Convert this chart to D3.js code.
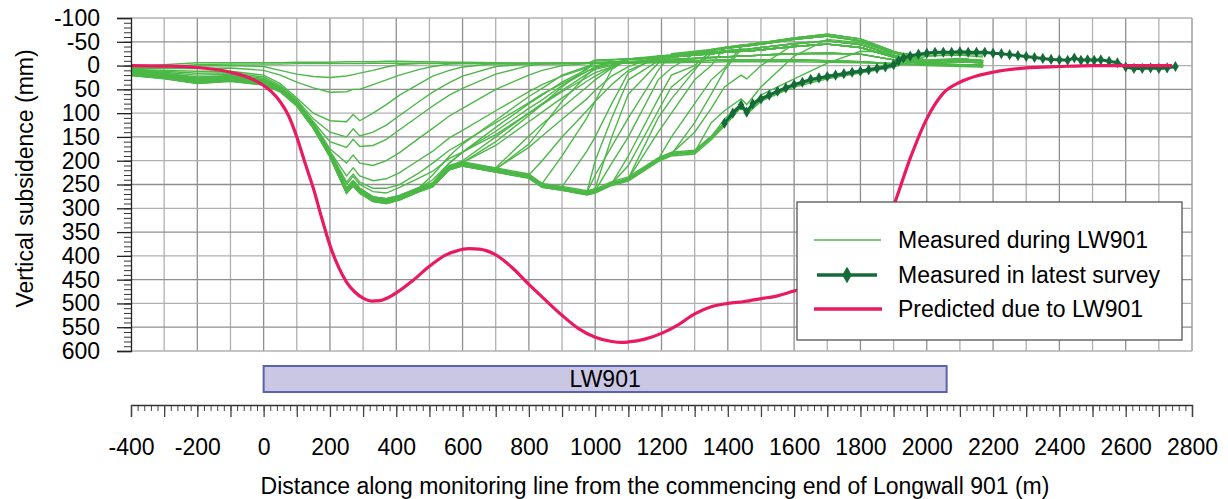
<!DOCTYPE html>
<html>
<head>
<meta charset="utf-8">
<script src="https://d3js.org/d3.v7.min.js"></script>
<style>
  body { margin: 0; background: #fff; }
  svg text { font-family: "Liberation Sans", Arial, sans-serif; fill: #000; }
</style>
</head>
<body>
<svg id="chart" width="1228" height="499"></svg>
<script>
// ---- data (mm of subsidence, positive = down) ----
const gridX = [-400,-300,-200,-100,0,50,100,150,200,250,270,290,330,370,410,470,510,560,600,
  700,800,840,900,975,1000,1050,1100,1190,1230,1300,1350,1390,1440,1457,1500,1600,1700,1800,1900,2000,2100,2170];

// surveys measured during LW901, y values on gridX
const measuredDuring = [
  [3,-2,-6,-6, -6,-6,-7,-7,-7,-8,-8,-8,-8,-9,-9,-8,-8,-7,-7, -6,-5,-5,-6,-6,-6,-7,-8, -8,-9,-10,-11,-12,-12,-12,-12,-12,-10,-8,-4,-2,0,2],
  [6,2,-2,-3, -3,-3,-4,-4,-4,-4,-4,-4,-5,-5,-5,-5,-4,-4,-4, -3,-3,-3,-3,-4,-4,-5,-5, -6,-6,-7,-7,-8,-8,-8,-8,-8,-7,-6,-3,0,2,3],
  [5,3,1,0, 2,10,18,23,25,22,19,16,10,3,-2,-4,-5,-5,-5, -5,-4,-4,-5,-5,-6,-6,-7, -12,-13,-15,-17,-18,-20,-20,-22,-25,-26,-24,-12,-3,-1,0],
  [6,6,6,5, 10,20,35,47,56,55,50,50,40,30,20,8,2,-3,-4, -5,-5,-5,-5,-5,-6,-6,-7, -8,-9,-10,-11,-12,-12,-12,-12,-12,-10,-8,-4,-2,0,2],
  [8,10,12,12, 20,38,68,100,116,118,103,116,100,82,62,38,22,10,3, -4,-5,-5,-5,-5,-6,-7,-7, -12,-13,-15,-17,-18,-20,-20,-22,-25,-26,-24,-12,-3,-1,0],
  [9,12,16,15, 24,42,72,112,140,150,133,148,140,125,105,75,56,36,22, 2,-4,-5,-5,-5,-6,-7,-7, -8,-9,-10,-11,-12,-12,-12,-12,-12,-10,-8,-4,-2,0,2],
  [10,14,20,18, 27,45,75,118,160,172,155,170,168,155,135,105,85,62,48, 18,0,-3,-5,-5,-6,-7,-8, -12,-13,-15,-17,-18,-20,-20,-22,-25,-26,-24,-12,-3,-1,0],
  [11,16,24,21, 29,46,76,120,175,205,188,205,210,200,183,152,132,106,90, 50,20,10,0,-4,-12,-13,-14, -16,-18,-22,-25,-28,-30,-30,-33,-40,-45,-38,-18,-3,-2,0],
  [12,17,26,22, 30,47,77,122,180,232,215,232,242,238,225,198,180,152,136, 95,55,40,22,5,0,-5,-6, -8,-9,-10,-11,-12,-12,-12,-12,-12,-10,-8,-4,-2,0,2],
  [12,18,27,23, 31,47,77,123,181,245,228,245,258,258,250,225,205,178,162, 120,78,60,38,12,5,-2,-6, -12,-13,-15,-17,-18,-20,-20,-22,-25,-26,-24,-12,-3,-1,0],
  [12,18,28,23, 31,47,77,123,182,250,233,250,265,268,256,236,222,195,182, 145,100,82,55,25,15,3,-12, -16,-18,-22,-25,-28,-30,-30,-33,-40,-45,-38,-18,-3,-2,0],
  [13,19,29,24, 32,47,77,124,183,258,242,258,276,280,273,256,230,190,165, 115,65,48,20,2,-5,-7,-8, -12,-13,-15,-17,-18,-20,-20,-22,-25,-26,-24,-12,-3,-1,0],
  [13,19,29,24, 32,47,77,124,183,258,242,258,276,280,273,257,240,205,182, 138,90,72,42,12,3,-6,-13, -16,-18,-22,-25,-28,-30,-30,-33,-40,-45,-38,-18,-3,-2,0],
  [13,20,30,25, 33,48,78,125,184,260,244,260,277,282,274,257,247,205,182, 130,80,62,35,8,-10,-12,-14, -16,-18,-22,-25,-28,-30,-30,-33,-40,-45,-38,-18,-3,-2,0],
  [14,20,30,26, 34,48,78,125,185,261,245,261,278,283,275,258,248,212,200, 150,100,80,52,18,8,0,-14, -18,-20,-25,-28,-31,-34,-34,-38,-46,-52,-44,-22,-5,-8,-6],
  [14,20,31,26, 34,48,78,125,185,261,245,261,278,283,275,258,248,212,204, 160,105,82,45,5,-10,-12,-14, -18,-20,-25,-28,-31,-34,-34,-38,-46,-52,-44,-22,-5,-8,-6],
  [14,21,31,26, 34,48,78,125,185,262,246,262,279,283,276,258,248,212,204, 168,118,98,68,33,22,3,-14, -16,-18,-22,-25,-28,-30,-30,-33,-40,-45,-38,-18,-3,-2,0],
  [15,21,31,27, 35,49,79,126,186,262,246,262,279,284,276,258,248,213,205, 215,148,123,88,45,30,5,-14, -18,-20,-25,-28,-31,-34,-34,-38,-46,-52,-44,-22,-5,-8,-6],
  [15,21,32,27, 35,49,79,126,186,262,246,262,279,284,276,258,249,213,205, 218,165,130,75,20,5,-12,-14, -20,-22,-28,-32,-36,-40,-41,-45,-55,-62,-52,-28,-8,-14,-10],
  [15,22,32,27, 35,49,79,126,186,263,247,263,280,284,277,259,249,213,205, 217,172,148,113,70,52,22,2, -20,-22,-28,-32,-36,-40,-41,-45,-55,-62,-52,-28,-8,-14,-10],
  [16,22,32,28, 35,50,80,127,187,263,247,263,280,285,277,259,249,214,206, 218,230,200,150,95,75,40,10, -16,-18,-22,-25,-28,-30,-30,-33,-40,-45,-38,-18,-3,-2,0],
  [16,22,33,28, 36,50,80,127,187,263,247,263,281,285,277,260,250,214,206, 218,231,248,190,110,75,8,-14, -16,-18,-22,-25,-28,-30,-30,-33,-40,-45,-38,-18,-3,-2,0],
  [16,23,33,28, 36,50,80,127,187,264,248,264,281,285,278,260,250,214,206, 219,231,250,255,180,150,80,15, -20,-22,-28,-32,-36,-40,-41,-45,-55,-62,-52,-28,-8,-14,-10],
  [17,23,33,29, 36,51,81,128,188,264,248,264,281,286,278,260,250,215,207, 220,232,251,257,266,200,110,30, -10,-22,-28,-32,-36,-40,-41,-45,-55,-62,-52,-28,-8,-14,-10],
  [17,23,34,29, 36,51,81,128,188,265,249,265,282,286,278,261,251,215,207, 220,232,251,257,266,258,150,60, -5,-18,-22,-25,-28,-30,-30,-33,-40,-45,-38,-18,-3,-2,0],
  [17,24,34,29, 37,51,81,128,188,265,249,265,282,286,279,261,251,215,207, 220,233,252,258,267,230,170,110, 10,-25,-30,-34,-38,-43,-44,-48,-58,-66,-56,-30,-10,-12,-10],
  [18,24,34,30, 37,52,82,129,189,265,249,265,282,287,279,261,251,216,208, 221,233,252,258,268,263,205,150, 30,5,-25,-28,-31,-34,-34,-38,-46,-52,-44,-22,-5,-8,-6],
  [18,25,35,30, 38,52,82,129,189,266,250,266,283,287,280,262,252,216,208, 221,234,253,259,268,264,248,190, 70,20,0,-32,-36,-40,-41,-45,-55,-62,-52,-28,-8,-14,-10],
  [19,25,35,31, 38,53,83,130,190,266,250,266,283,288,280,262,252,217,209, 222,234,253,259,269,264,248,210, 95,45,5,-25,-28,-30,-30,-33,-40,-45,-38,-18,-3,-2,0],
  [19,25,35,31, 38,53,83,130,190,266,250,266,284,288,280,262,252,217,209, 222,234,253,259,269,264,248,237, 110,70,10,-34,-38,-43,-44,-48,-58,-66,-56,-30,-10,-12,-10],
  [19,26,36,31, 39,53,83,130,190,267,251,267,284,288,281,263,253,217,209, 222,235,254,260,269,265,249,238, 140,100,30,0,-38,-43,-44,-48,-58,-66,-56,-30,-10,-12,-10],
  [20,26,36,32, 39,54,84,131,191,267,251,267,284,289,281,263,253,218,210, 223,235,254,260,270,265,249,239, 197,150,80,30,5,-40,-41,-45,-55,-62,-52,-28,-8,-14,-10],
  [20,26,36,32, 39,54,84,131,191,267,251,267,284,289,281,263,253,218,210, 223,235,254,260,270,265,249,239, 197,186,120,60,10,-34,-34,-38,-46,-52,-44,-22,-5,-8,-6],
  [20,27,37,32, 40,54,84,131,191,268,252,268,285,289,282,264,254,218,210, 223,236,255,261,270,266,250,239, 197,185,140,90,45,20,28,0,-45,-52,-44,-22,-5,-8,-6],
  [21,27,37,33, 40,55,85,132,192,268,252,268,285,290,282,264,254,219,211, 224,236,255,261,271,266,250,240, 198,186,182,120,95,70,82,45,-20,-55,-48,-26,-12,-15,-10],
  [21,28,38,33, 41,55,85,132,192,269,253,269,286,290,283,265,255,219,211, 224,237,256,262,271,267,251,240, 199,187,183,150,112,80,94,62,28,-5,-30,-28,-20,-22,-18],
  [12,19,30,25, 33,47,77,124,184,258,242,258,276,280,273,256,246,210,202, 215,228,248,254,263,260,244,234, 194,182,178,148,120,84,98,70,40,23,12,-2,-26,-28,-26],
  [14,21,32,27, 35,49,79,126,186,262,246,262,280,284,276,259,249,213,205, 218,230,250,256,266,262,246,237, 196,184,180,150,121,82,97,68,38,21,10,-4,-28,-29,-27],
  [16,23,34,29, 37,51,81,128,188,265,249,265,283,287,279,262,252,216,208, 221,233,253,259,269,265,249,240, 199,187,183,153,124,86,100,72,42,25,14,0,-24,-27,-25],
  [18,25,36,31, 39,53,83,130,190,268,252,268,286,290,282,265,255,219,211, 224,236,256,262,272,268,252,243, 202,190,186,156,127,88,103,75,45,28,16,3,-20,-24,-22]
];

// latest survey
const latestX = [1390,1415,1440,1457,1475,1500,1525,1550,1575,1600,1625,1650,1675,1700,1725,1750,1775,1800,1825,1850,1875,1900,
  1915,1930,1950,1975,2000,2025,2050,2075,2100,2125,2150,2175,2200,2225,2250,2275,2300,2325,2350,2375,2400,2425,
  2445,2465,2485,2505,2525,2550,2575,2600,2625,2650,2675,2700,2725,2750];
const latestY = [121,100,83,98,80,70,62,54,47,40,35,29,26,23,20,17,14,12,9,6,3,-2,
  -10,-16,-20,-24,-26,-28,-28,-28,-29,-28,-28,-28,-26,-25,-23,-21,-19,-17,-15,-13,-12,-11,
  -16,-11,-12,-11,-12,-9,-6,3,6,6,5,6,5,2];

// predicted due to LW901
const predictedX = [-400,-300,-200,-100,-50,0,25,50,75,100,125,150,175,200,225,250,275,300,325,350,375,400,450,500,550,580,620,650,
  700,750,800,850,900,950,1000,1050,1080,1100,1150,1200,1250,1300,1350,1400,1450,1500,1550,1600,1650,1700,1750,1800,1850,
  1900,1950,2000,2050,2100,2150,2200,2300,2400,2500,2600,2740];
const predictedY = [0,1,4,14,24,42,56,76,105,150,205,258,320,378,422,455,476,489,495,494,488,478,452,422,398,390,385,386,
  398,425,460,493,525,553,571,580,582,581,575,563,545,522,507,500,496,490,484,474,466,456,442,418,375,
  295,195,112,58,35,22,14,5,2,0,0,0];

const panelStart = 0, panelEnd = 2060, panelLabel = "LW901";
const yTicks = [-100,-50,0,50,100,150,200,250,300,350,400,450,500,550,600];
const xTicks = [-400,-200,0,200,400,600,800,1000,1200,1400,1600,1800,2000,2200,2400,2600,2800];
const legendLabels = ["Measured during LW901", "Measured in latest survey", "Predicted due to LW901"];

// ---- drawing ----
const GREEN = "#4db848", DARK = "#146a38", PINK = "#ea1a5e";
const svg = d3.select("#chart");
const x = d3.scaleLinear().domain([-400, 2800]).range([131, 1192]);
const y = d3.scaleLinear().domain([-100, 600]).range([18, 351]);

// grid
const grid = svg.append("g");
grid.selectAll(".vg").data(d3.range(-300, 2801, 100)).join("line")
  .attr("x1", d => x(d)).attr("x2", d => x(d)).attr("y1", y(-100)).attr("y2", y(600))
  .attr("stroke", (d, i) => i % 2 ? "#8f8f8f" : "#b0b0b0").attr("stroke-width", 1.3);
grid.selectAll(".hg").data(yTicks).join("line")
  .attr("x1", x(-400)).attr("x2", x(2800)).attr("y1", d => y(d)).attr("y2", d => y(d))
  .attr("stroke", (d, i) => i % 2 ? "#8f8f8f" : "#b0b0b0").attr("stroke-width", 1.3);

const line = d3.line().x(d => x(d[0])).y(d => y(d[1]));
const smooth = d3.line().x(d => x(d[0])).y(d => y(d[1])).curve(d3.curveMonotoneX);

// measured during LW901
svg.append("g").selectAll("path").data(measuredDuring).join("path")
  .attr("d", row => line(gridX.map((v, i) => [v, row[i]])))
  .attr("fill", "none").attr("stroke", GREEN).attr("stroke-width", 1.4);

// latest survey
const latest = latestX.map((v, i) => [v, latestY[i]]);
svg.append("path").datum(latest).attr("d", line)
  .attr("fill", "none").attr("stroke", DARK).attr("stroke-width", 3);
svg.append("g").selectAll("path").data(latest).join("path")
  .attr("d", d3.symbol(d3.symbolDiamond, 36))
  .attr("transform", d => `translate(${x(d[0])},${y(d[1])})`)
  .attr("fill", DARK);

// predicted
const predicted = predictedX.map((v, i) => [v, predictedY[i]]);
svg.append("path").datum(predicted).attr("d", smooth)
  .attr("fill", "none").attr("stroke", PINK).attr("stroke-width", 3.2);

// left axis
const yAxisG = svg.append("g").attr("transform", `translate(${x(-400)},0)`);
yAxisG.append("g").call(d3.axisLeft(y).tickValues(d3.range(-100, 601, 10)).tickSize(7).tickFormat(""))
  .call(g => g.select(".domain").remove())
  .selectAll("line").attr("stroke", "#333");
yAxisG.append("g").call(d3.axisLeft(y).tickValues(yTicks).tickSize(14).tickPadding(17).tickFormat(d => String(d)))
  .call(g => g.select(".domain").attr("stroke", "#222").attr("stroke-width", 1.3))
  .call(g => g.selectAll("line").attr("stroke", "#222").attr("stroke-width", 1.3))
  .call(g => g.selectAll("text").attr("font-size", 23).attr("font-family", "Liberation Sans, Arial, sans-serif"));

svg.append("text").attr("transform", `translate(33,${(y(-100) + y(600)) / 2 - 6}) rotate(-90)`)
  .attr("text-anchor", "middle").attr("font-size", 23).text("Vertical subsidence (mm)");

// LW901 panel
svg.append("rect").attr("x", x(panelStart)).attr("y", 366)
  .attr("width", x(panelEnd) - x(panelStart)).attr("height", 26)
  .attr("fill", "#c9c7e4").attr("stroke", "#5b62ae").attr("stroke-width", 2);
svg.append("text").attr("x", (x(panelStart) + x(panelEnd)) / 2).attr("y", 379)
  .attr("text-anchor", "middle").attr("dy", "0.35em").attr("font-size", 23).text(panelLabel);

// bottom axis
const xAxisG = svg.append("g").attr("transform", "translate(0,405)");
xAxisG.append("g").call(d3.axisBottom(x).tickValues(d3.range(-400, 2801, 20)).tickSize(6).tickFormat(""))
  .call(g => g.select(".domain").remove())
  .selectAll("line").attr("stroke", "#444");
xAxisG.append("g").call(d3.axisBottom(x).tickValues(d3.range(-400, 2801, 100)).tickSize(12)
    .tickFormat(d => xTicks.includes(d) ? String(d) : ""))
  .call(g => g.select(".domain").attr("stroke", "#333").attr("stroke-width", 1.3))
  .call(g => g.selectAll("line").attr("stroke", "#444").attr("stroke-width", 1.3))
  .call(g => g.selectAll("text").attr("y", 34).attr("font-size", 23).attr("font-family", "Liberation Sans, Arial, sans-serif"));

svg.append("text").attr("x", 655).attr("y", 494).attr("text-anchor", "middle").attr("font-size", 23)
  .text("Distance along monitoring line from the commencing end of Longwall 901 (m)");

// legend
const lg = svg.append("g");
lg.append("rect").attr("x", 797).attr("y", 202).attr("width", 385).attr("height", 138)
  .attr("fill", "#fff").attr("stroke", "#555").attr("stroke-width", 1.3);
const rowsY = [240, 275, 309];
lg.append("line").attr("x1", 814).attr("x2", 881).attr("y1", rowsY[0]).attr("y2", rowsY[0])
  .attr("stroke", GREEN).attr("stroke-width", 1.3);
lg.append("line").attr("x1", 817).attr("x2", 877).attr("y1", rowsY[1]).attr("y2", rowsY[1])
  .attr("stroke", DARK).attr("stroke-width", 3.5);
lg.append("path").attr("d", d3.symbol(d3.symbolDiamond, 80)).attr("transform", `translate(847,${rowsY[1]})`)
  .attr("fill", DARK);
lg.append("line").attr("x1", 814).attr("x2", 882).attr("y1", rowsY[2]).attr("y2", rowsY[2])
  .attr("stroke", PINK).attr("stroke-width", 3.5);
lg.selectAll(".lt").data(legendLabels).join("text")
  .attr("x", 898).attr("y", (d, i) => rowsY[i]).attr("dy", "0.35em").attr("font-size", 23).text(d => d);
</script>
</body>
</html>
